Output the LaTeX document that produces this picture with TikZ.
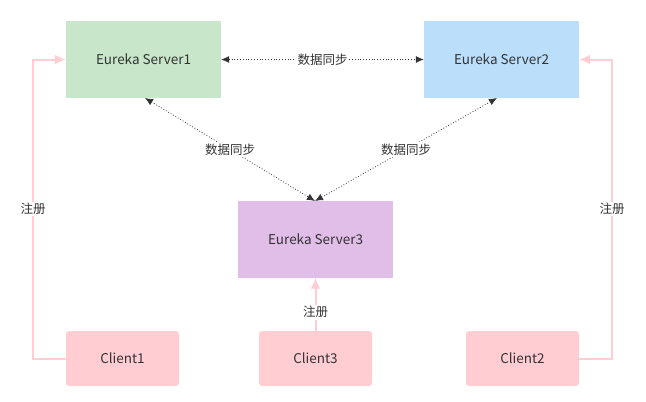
\documentclass[tikz,border=0pt]{standalone}
\usepackage{fontspec}
\setmainfont{Noto Sans CJK SC}
\usetikzlibrary{arrows.meta}
\definecolor{sgreen}{HTML}{C8E6C9}
\definecolor{sblue}{HTML}{BBDEFB}
\definecolor{spurple}{HTML}{E1BEE7}
\definecolor{spink}{HTML}{FFCDD2}
\definecolor{txt}{HTML}{333333}
\begin{document}
\begin{tikzpicture}[x=1pt,y=-1pt,
  server/.style={minimum width=155pt,minimum height=77pt,inner sep=0pt,text=txt,font=\fontsize{13.5}{16}\selectfont},
  client/.style={minimum width=113pt,minimum height=55pt,inner sep=0pt,fill=spink,rounded corners=3pt,text=txt,font=\fontsize{13.5}{16}\selectfont},
  sync/.style={draw=txt,dotted,line width=0.8pt,{Latex[length=8pt,width=7pt]}-{Latex[length=8pt,width=7pt]}},
  reg/.style={draw=spink,line width=2pt,-{Latex[length=11pt,width=10pt]}},
  lbl/.style={fill=white,inner sep=1.5pt,text=txt,font=\fontsize{12.5}{15}\selectfont}]
\useasboundingbox (0,0) rectangle (646,402);
\node[server,fill=sgreen] (s1) at (143.5,59.5) {Eureka Server1};
\node[server,fill=sblue] (s2) at (501.5,59.5) {Eureka Server2};
\node[server,fill=spurple] (s3) at (315.5,239) {Eureka Server3};
\node[client] (c1) at (122.5,358.5) {Client1};
\node[client] (c3) at (315.5,358.5) {Client3};
\node[client] (c2) at (522.5,358.5) {Client2};
\coordinate (s1b) at (145,98);
\coordinate (s2b) at (497,98);
\coordinate (s3t) at (315,201);
\draw[sync] (s1.east) -- node[lbl]{数据同步} (s2.west);
\draw[sync] (s1b) -- node[lbl,pos=0.5]{数据同步} (s3t);
\draw[sync] (s2b) -- node[lbl,pos=0.5]{数据同步} (s3t);
\draw[reg] (c1.west) -- (33,358.5) -- node[lbl]{注册} (33,59.5) -- (s1.west);
\draw[reg] (c2.east) -- (612,358.5) -- node[lbl]{注册} (612,59.5) -- (s2.east);
\draw[reg] (c3.north) -- node[lbl,pos=0.35]{注册} (s3.south);
\end{tikzpicture}
\end{document}
